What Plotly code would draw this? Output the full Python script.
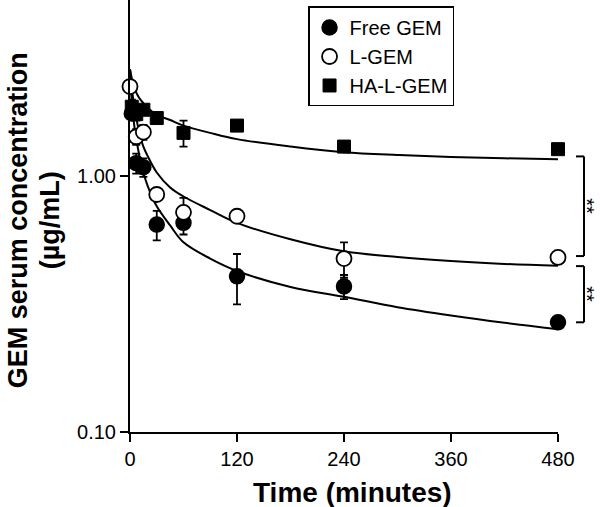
import math
import plotly.graph_objects as go

# ---------------- data ----------------
free_t = [2, 7, 15, 30, 60, 120, 240, 480]
free_v = [1.75, 1.12, 1.08, 0.645, 0.655, 0.405, 0.37, 0.268]
free_e = [0.10, 0.10, 0.09, 0.085, 0.065, 0.09, 0.04, 0.0]

lgem_t = [0, 7, 15, 30, 60, 120, 240, 480]
lgem_v = [2.23, 1.42, 1.48, 0.845, 0.72, 0.695, 0.475, 0.48]
lgem_e = [0.0, 0.10, 0.10, 0.0, 0.10, 0.0, 0.075, 0.0]

ha_t = [2, 7, 15, 30, 60, 120, 240, 480]
ha_v = [1.86, 1.74, 1.81, 1.68, 1.47, 1.57, 1.30, 1.27]
ha_e = [0.12, 0.10, 0.08, 0.05, 0.17, 0.0, 0.06, 0.0]

# fitted curves
curve_t = [0, 2, 5, 10, 15, 20, 30, 45, 60, 90, 120, 180, 240, 300, 360, 420, 480]
free_fit = [2.6, 1.95, 1.55, 1.22, 1.03, 0.91, 0.76, 0.64, 0.55, 0.475, 0.425,
            0.368, 0.337, 0.307, 0.285, 0.267, 0.252]
lgem_fit = [2.6, 2.2, 1.85, 1.5, 1.3, 1.19, 1.03, 0.90, 0.83, 0.735, 0.655,
            0.565, 0.507, 0.482, 0.465, 0.453, 0.445]
ha_fit = [2.6, 2.4, 2.2, 2.02, 1.92, 1.84, 1.73, 1.65, 1.57, 1.47, 1.39,
          1.30, 1.235, 1.205, 1.185, 1.17, 1.16]

x_ticks = [0, 120, 240, 360, 480]
y_ticks = [0.1, 1.0]
y_ticktext = ["0.10", "1.00"]

sig_brackets = [(0.486, 1.19), (0.268, 0.444)]
sig_labels = ["**", "**"]

names = ["Free GEM", "L-GEM", "HA-L-GEM"]
y_title_lines = ["GEM serum concentration", "(µg/mL)"]

FONT = "Liberation Sans, Arial, Helvetica, sans-serif"

fig = go.Figure()

# fit lines
for fit in [free_fit, lgem_fit, ha_fit]:
    fig.add_trace(go.Scatter(
        x=curve_t, y=fit, mode="lines", line=dict(color="black", width=2),
        line_shape="spline", showlegend=False, hoverinfo="skip", cliponaxis=False))

# markers with error bars
marker_styles = [
    dict(symbol="circle", size=15, color="black", line=dict(color="black", width=1.5)),
    dict(symbol="circle", size=15, color="white", line=dict(color="black", width=1.8)),
    dict(symbol="square", size=13, color="black", line=dict(color="black", width=1)),
]
for name, t, v, e, ms in zip(names, [free_t, lgem_t, ha_t], [free_v, lgem_v, ha_v],
                             [free_e, lgem_e, ha_e], marker_styles):
    fig.add_trace(go.Scatter(
        x=t, y=v, mode="markers", name=name, marker=ms, cliponaxis=False,
        error_y=dict(type="data", array=e, visible=True, color="black",
                     thickness=1.8, width=4)))

# significance brackets
xa, xb = 1.0421, 1.0607
annotations = []
for (lo, hi), lab in zip(sig_brackets, sig_labels):
    for (x0, y0, x1, y1) in [(xb, lo, xb, hi), (xa, lo, xb, lo), (xa, hi, xb, hi)]:
        fig.add_shape(type="line", xref="paper", yref="y", x0=x0, x1=x1, y0=y0, y1=y1,
                      line=dict(color="black", width=2))
    annotations.append(dict(
        xref="paper", yref="y", x=1.0678, y=(math.log10(lo) + math.log10(hi)) / 2,
        text=lab, showarrow=False, textangle=90, xanchor="center", yanchor="middle",
        borderpad=0, borderwidth=0,
        font=dict(size=20, color="black", family=FONT)))

# axis titles
annotations.append(dict(
    xref="paper", yref="paper", x=0.5187, y=-0.141, text="Time (minutes)",
    showarrow=False, xanchor="center", yanchor="middle",
    font=dict(size=28, color="black", family=FONT, weight="bold")))
for txt, xc in zip(y_title_lines, [-0.2617, -0.1869]):
    annotations.append(dict(
        xref="paper", yref="paper", x=xc, y=0.49,
        text=txt, showarrow=False, textangle=-90,
        xanchor="center", yanchor="middle",
        font=dict(size=27, color="black", family=FONT, weight="bold")))

fig.update_layout(
    width=600, height=507,
    margin=dict(l=130, r=42, t=0, b=75),
    paper_bgcolor="white", plot_bgcolor="white",
    font=dict(family=FONT, color="black", size=20),
    showlegend=True,
    legend=dict(x=0.416, y=0.985, xanchor="left", yanchor="top",
                bgcolor="white", bordercolor="black", borderwidth=1.5,
                font=dict(size=20, family=FONT, color="black"),
                itemclick=False),
    annotations=annotations,
    xaxis=dict(range=[0, 480], tickvals=x_ticks, ticks="outside", ticklen=8,
               tickwidth=2, tickcolor="black", showline=True, linecolor="black",
               linewidth=2, showgrid=False, zeroline=False,
               tickfont=dict(size=20, family=FONT, color="black")),
    yaxis=dict(type="log", range=[-1, 0.686], tickvals=y_ticks, ticktext=y_ticktext,
               ticks="outside", ticklen=8, tickwidth=2, tickcolor="black",
               showline=True, linecolor="black", linewidth=2, showgrid=False,
               zeroline=False, tickfont=dict(size=20, family=FONT, color="black")),
)

fig.write_html("out.html", config={"displayModeBar": False},
               post_script="document.body.style.margin='0px';")
